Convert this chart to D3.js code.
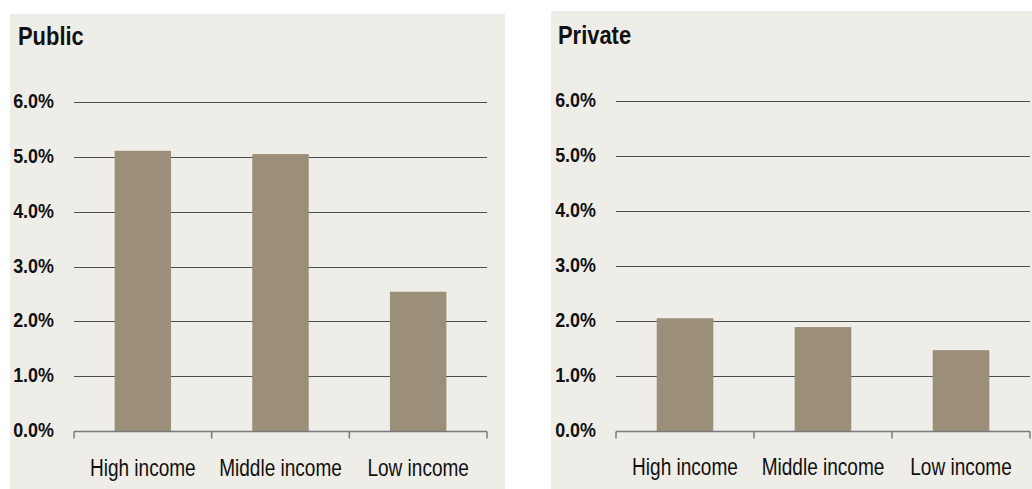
<!DOCTYPE html>
<html>
<head>
<meta charset="utf-8">
<script src="https://cdn.jsdelivr.net/npm/d3@7"></script>
<style>
  html, body { margin: 0; padding: 0; background: #ffffff; }
  svg { display: block; }
</style>
</head>
<body>
<svg id="chart" width="1032" height="489"></svg>
<script>
// Spending shares by country income group
const categories = ["High income", "Middle income", "Low income"];
const publicValues = [5.11, 5.05, 2.54];
const privateValues = [2.05, 1.89, 1.47];
const yTickValues = [0, 1, 2, 3, 4, 5, 6];
const panelTitles = ["Public", "Private"];

const FONT = "'Liberation Sans', Arial, Helvetica, sans-serif";
const BG = "#efede8";
const BAR = "#9b8f7a";
const GRID = "#4d4d4d";
const AXIS = "#7a7a7a";

const svg = d3.select("#chart");

// Layout of the two panels
const panels = [
  { title: panelTitles[0], values: publicValues,
    box: { x: 10, y: 14, w: 495, h: 475 },
    plot: { left: 74, right: 487, top: 102, bottom: 431 },
    titlePos: { x: 18, y: 45 }, tickLabelX: 54, catBaseline: 476 },
  { title: panelTitles[1], values: privateValues,
    box: { x: 551, y: 11, w: 481, h: 478 },
    plot: { left: 616, right: 1030, top: 101, bottom: 431 },
    titlePos: { x: 558, y: 43.5 }, tickLabelX: 596, catBaseline: 475 }
];

// Text helper: compresses glyphs horizontally around the anchor point
function label(g, x, y, str, opts) {
  return g.append("text")
    .attr("transform", `translate(${x},${y}) scale(${opts.sx},1)`)
    .attr("text-anchor", opts.anchor || "start")
    .attr("font-family", FONT)
    .attr("font-size", opts.size)
    .attr("font-weight", opts.weight || "normal")
    .attr("fill", opts.fill || "#111")
    .text(str);
}

panels.forEach(p => {
  const g = svg.append("g");

  g.append("rect")
    .attr("x", p.box.x).attr("y", p.box.y)
    .attr("width", p.box.w).attr("height", p.box.h)
    .attr("fill", BG);

  const y = d3.scaleLinear().domain([0, 6]).range([p.plot.bottom, p.plot.top]);
  const x = d3.scaleBand().domain(categories)
    .range([p.plot.left, p.plot.right])
    .paddingInner(0.59).paddingOuter(0.295);
  const xCells = d3.scaleBand().domain(categories)
    .range([p.plot.left, p.plot.right]).padding(0);

  // Horizontal gridlines (0 is drawn by the axis)
  g.append("g").selectAll("line")
    .data(yTickValues.filter(v => v > 0))
    .join("line")
    .attr("x1", p.plot.left).attr("x2", p.plot.right)
    .attr("y1", d => Math.round(y(d)) + 0.5).attr("y2", d => Math.round(y(d)) + 0.5)
    .attr("stroke", GRID).attr("stroke-width", 1);

  // Y tick labels
  const yl = g.append("g");
  yTickValues.forEach(v => {
    label(yl, p.tickLabelX, y(v) + 6, d3.format(".1f")(v) + "%",
      { size: 19.5, weight: "bold", anchor: "end", sx: 0.92 });
  });

  // Bars
  g.append("g").selectAll("rect")
    .data(p.values)
    .join("rect")
    .attr("x", (d, i) => x(categories[i]))
    .attr("width", x.bandwidth())
    .attr("y", d => y(d))
    .attr("height", d => y(0) - y(d))
    .attr("fill", BAR);

  // Category axis: baseline plus tick marks at cell boundaries
  const axisY = Math.round(y(0)) + 0.5;
  g.append("line")
    .attr("x1", p.plot.left).attr("x2", p.plot.right)
    .attr("y1", axisY).attr("y2", axisY)
    .attr("stroke", AXIS).attr("stroke-width", 1.5);
  const bounds = categories.map(c => xCells(c)).concat([p.plot.right]);
  g.append("g").selectAll("line")
    .data(bounds)
    .join("line")
    .attr("x1", d => d).attr("x2", d => d)
    .attr("y1", axisY).attr("y2", axisY + 7)
    .attr("stroke", AXIS).attr("stroke-width", 1.5);

  // Category labels
  categories.forEach(c => {
    label(g, x(c) + x.bandwidth() / 2, p.catBaseline, c,
      { size: 23.5, anchor: "middle", sx: 0.81 });
  });

  // Panel title
  label(g, p.titlePos.x, p.titlePos.y, p.title,
    { size: 25.5, weight: "bold", sx: 0.86 });
});
</script>
</body>
</html>
